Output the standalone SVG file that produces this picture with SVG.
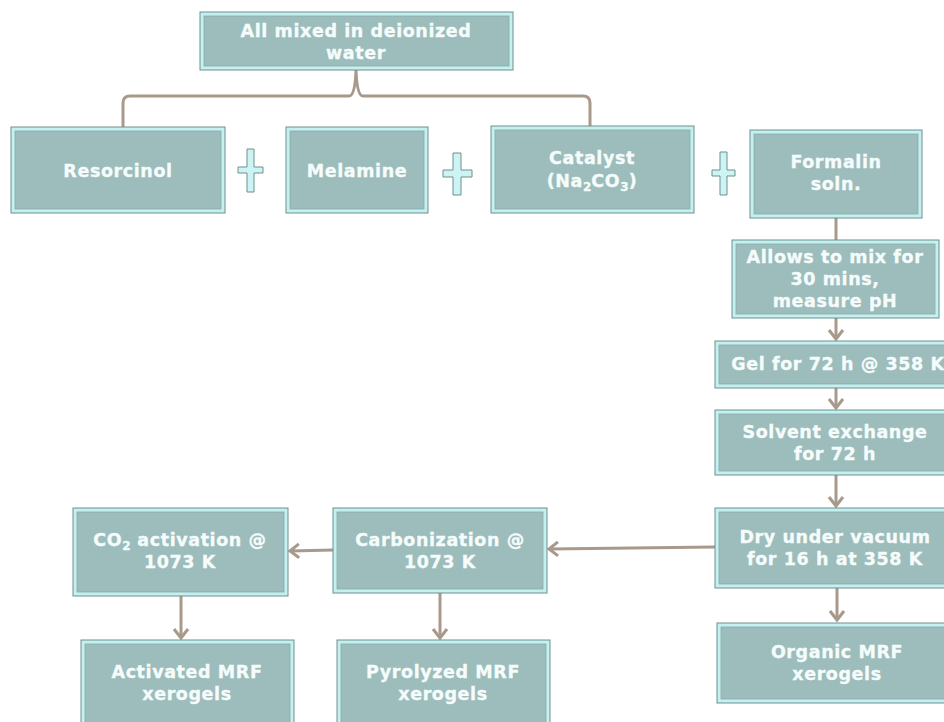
<svg xmlns="http://www.w3.org/2000/svg" width="944" height="722" viewBox="0 0 944 722">
  <defs>
    <style>
      .frame { fill: #C3F0F0; stroke: #6F8F8D; stroke-width: 1; }
      .face { fill: #9CBDBB; stroke: #88ABA9; stroke-width: 0.8; }
      .lbl { fill: #F5FCFB; stroke: #F5FCFB; stroke-width: 0.35px; font-family: "DejaVu Sans", Verdana, sans-serif; font-weight: bold; font-size: 17.5px; letter-spacing: 0.6px; text-anchor: middle; }
      .sub { font-size: 12px; letter-spacing: 0; }
      .wire { fill: none; stroke: #A8998A; stroke-width: 3; }
      .plus { fill: #CDF4F4; stroke: #6F8F8D; stroke-width: 1; }
    </style>
    <marker id="chev" markerUnits="userSpaceOnUse" markerWidth="20" markerHeight="20" refX="10" refY="10" orient="auto" overflow="visible">
      <path d="M1,3 L10,10 L1,17" fill="none" stroke="#A8998A" stroke-width="3" stroke-linejoin="miter"/>
    </marker>
  </defs>
  <rect width="944" height="722" fill="#FFFFFF"/>

  <g id="connectors">
    <path class="wire" d="M123,127 V103 Q123,96 130,96 H349 Q355,96 356,70 Q357,96 363,96 H583 Q590,96 590,103 V126"/>
    <line class="wire" x1="836" y1="218" x2="836" y2="240"/>
    <line class="wire" x1="836" y1="318" x2="836" y2="339" marker-end="url(#chev)"/>
    <line class="wire" x1="836" y1="388" x2="836" y2="408" marker-end="url(#chev)"/>
    <line class="wire" x1="836" y1="475" x2="836" y2="506" marker-end="url(#chev)"/>
    <line class="wire" x1="837" y1="588" x2="837" y2="620" marker-end="url(#chev)"/>
    <line class="wire" x1="715" y1="547" x2="549" y2="549" marker-end="url(#chev)"/>
    <line class="wire" x1="333" y1="550" x2="290" y2="551" marker-end="url(#chev)"/>
    <line class="wire" x1="181" y1="596" x2="181" y2="638" marker-end="url(#chev)"/>
    <line class="wire" x1="440" y1="593" x2="440" y2="638" marker-end="url(#chev)"/>
  </g>

  <g id="plus-signs">
    <path class="plus" d="M247,149 H254 V167 H263 V173 H254 V192 H247 V173 H238 V167 H247 Z"/>
    <path class="plus" d="M453,153 H461 V170 H472 V177 H461 V195 H453 V177 H443 V170 H453 Z"/>
    <path class="plus" d="M720,152 H727 V170 H735 V176 H727 V195 H720 V176 H712 V170 H720 Z"/>
  </g>

  <g id="mix">
    <rect class="frame" x="200" y="12" width="313" height="58"/>
    <rect class="face" x="204" y="16" width="305" height="50"/>
    <text class="lbl" x="356" y="37">All mixed in deionized</text>
    <text class="lbl" x="356" y="59">water</text>
  </g>

  <g id="resorcinol">
    <rect class="frame" x="11" y="127" width="214" height="86"/>
    <rect class="face" x="15" y="131" width="206" height="78"/>
    <text class="lbl" x="118" y="177">Resorcinol</text>
  </g>

  <g id="melamine">
    <rect class="frame" x="286" y="127" width="142" height="86"/>
    <rect class="face" x="290" y="131" width="134" height="78"/>
    <text class="lbl" x="357" y="177">Melamine</text>
  </g>

  <g id="catalyst">
    <rect class="frame" x="491" y="126" width="203" height="87"/>
    <rect class="face" x="495" y="130" width="195" height="79"/>
    <text class="lbl" x="592" y="164">Catalyst</text>
    <text class="lbl" x="592" y="187">(Na<tspan class="sub" dy="4">2</tspan><tspan dy="-4">CO</tspan><tspan class="sub" dy="4">3</tspan><tspan dy="-4">)</tspan></text>
  </g>

  <g id="formalin">
    <rect class="frame" x="750" y="130" width="172" height="88"/>
    <rect class="face" x="754" y="134" width="164" height="80"/>
    <text class="lbl" x="836" y="168">Formalin</text>
    <text class="lbl" x="836" y="190">soln.</text>
  </g>

  <g id="stir">
    <rect class="frame" x="732" y="240" width="207" height="78"/>
    <rect class="face" x="736" y="244" width="199" height="70"/>
    <text class="lbl" x="835" y="263">Allows to mix for</text>
    <text class="lbl" x="835" y="285">30 mins,</text>
    <text class="lbl" x="835" y="307">measure pH</text>
  </g>

  <g id="gel">
    <rect class="frame" x="715" y="341" width="245" height="47"/>
    <rect class="face" x="719" y="345" width="237" height="39"/>
    <text class="lbl" x="838" y="370">Gel for 72 h @ 358 K</text>
  </g>

  <g id="solvent">
    <rect class="frame" x="715" y="410" width="245" height="65"/>
    <rect class="face" x="719" y="414" width="237" height="57"/>
    <text class="lbl" x="835" y="438">Solvent exchange</text>
    <text class="lbl" x="835" y="460">for 72 h</text>
  </g>

  <g id="dry">
    <rect class="frame" x="715" y="508" width="245" height="80"/>
    <rect class="face" x="719" y="512" width="237" height="72"/>
    <text class="lbl" x="835" y="543">Dry under vacuum</text>
    <text class="lbl" x="835" y="565">for 16 h at 358 K</text>
  </g>

  <g id="organic">
    <rect class="frame" x="717" y="623" width="245" height="80"/>
    <rect class="face" x="721" y="627" width="237" height="72"/>
    <text class="lbl" x="837" y="658">Organic MRF</text>
    <text class="lbl" x="837" y="680">xerogels</text>
  </g>

  <g id="carbonization">
    <rect class="frame" x="333" y="508" width="214" height="85"/>
    <rect class="face" x="337" y="512" width="206" height="77"/>
    <text class="lbl" x="440" y="546">Carbonization @</text>
    <text class="lbl" x="440" y="568">1073 K</text>
  </g>

  <g id="activation">
    <rect class="frame" x="73" y="508" width="215" height="88"/>
    <rect class="face" x="77" y="512" width="207" height="80"/>
    <text class="lbl" x="180" y="546">CO<tspan class="sub" dy="4">2</tspan><tspan dy="-4"> activation @</tspan></text>
    <text class="lbl" x="180" y="568">1073 K</text>
  </g>

  <g id="activated">
    <rect class="frame" x="81" y="640" width="213" height="100"/>
    <rect class="face" x="85" y="644" width="205" height="92"/>
    <text class="lbl" x="187" y="678">Activated MRF</text>
    <text class="lbl" x="187" y="700">xerogels</text>
  </g>

  <g id="pyrolyzed">
    <rect class="frame" x="337" y="640" width="213" height="100"/>
    <rect class="face" x="341" y="644" width="205" height="92"/>
    <text class="lbl" x="443" y="678">Pyrolyzed MRF</text>
    <text class="lbl" x="443" y="700">xerogels</text>
  </g>
</svg>
